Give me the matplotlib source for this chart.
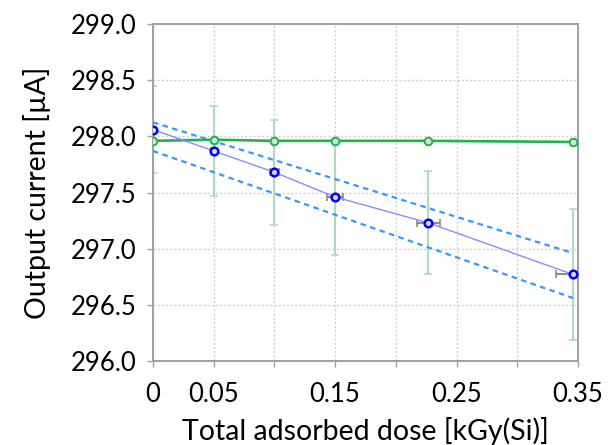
import matplotlib
matplotlib.use("Agg")
import matplotlib.pyplot as plt

# data
dose = [0.0, 0.05, 0.10, 0.15, 0.2268, 0.346]
dose_err = [0.0, 0.002, 0.004, 0.0065, 0.0095, 0.014]
current_irr = [298.06, 297.87, 297.68, 297.46, 297.23, 296.77]
current_irr_err = [0.385, 0.40, 0.47, 0.52, 0.46, 0.585]
current_ref = [297.96, 297.97, 297.96, 297.96, 297.96, 297.95]

band_x = [0.0, 0.346]
band_upper = [298.125, 296.96]
band_lower = [297.87, 296.56]

xticks = [0.0, 0.05, 0.10, 0.15, 0.20, 0.25, 0.30, 0.35]
xtick_labels = ["0", "0.05", "", "0.15", "", "0.25", "", "0.35"]
yticks = [296.0, 296.5, 297.0, 297.5, 298.0, 298.5, 299.0]

plt.rcParams["font.family"] = ["Lato", "DejaVu Sans"]

fig = plt.figure(figsize=(6.09, 4.45), dpi=100)
ax = fig.add_axes([0.2512, 0.1888, 0.6978, 0.7572])

# error bars of the irradiated device
ax.errorbar(dose, current_irr, yerr=current_irr_err, fmt="none",
            ecolor="#a8d8bb", elinewidth=1.3, capsize=3, capthick=1.1, zorder=2)
ax.errorbar(dose, current_irr, xerr=dose_err, fmt="none",
            ecolor="#8c8c8c", elinewidth=1.5, capsize=3, capthick=1.2, zorder=2)

ax.plot(band_x, band_upper, color="#3399ff", lw=1.6, ls=(0, (2.5, 2)), zorder=3)
ax.plot(band_x, band_lower, color="#3399ff", lw=1.6, ls=(0, (2.5, 2)), zorder=3)

ax.plot(dose, current_ref, color="#22b14c", lw=1.9, marker="o", ms=5.5,
        mec="#22b14c", mfc="#c8ecd4", mew=1.4, zorder=4)
ax.plot(dose, current_irr, color="#8c8cff", lw=1.0, marker="o", ms=5.5,
        mec="#0000ff", mfc="#d8d8ff", mew=1.8, zorder=5)

ax.set_xlim(0, 0.35)
ax.set_ylim(296.0, 299.0)
ax.set_xticks(xticks)
ax.set_xticklabels(xtick_labels)
ax.set_yticks(yticks)
ax.set_yticklabels([f"{v:.1f}" for v in yticks])

ax.grid(True, color="#d0d0d0", ls=(0, (1.5, 1.5)), lw=1.0)
ax.set_axisbelow(True)
for s in ax.spines.values():
    s.set_color("#a0a0a0")
    s.set_linewidth(1.4)
ax.tick_params(axis="both", direction="out", length=4, width=1.0,
               color="#a0a0a0", labelsize=18.5, labelcolor="#000000")
ax.tick_params(axis="y", pad=8)
ax.tick_params(axis="x", pad=11)

ax.set_xlabel("Total adsorbed dose [kGy(Si)]", fontsize=20.5, labelpad=7)
ax.set_ylabel("Output current [\u00b5A]", fontsize=20.5, labelpad=14)

fig.savefig("out.png", dpi=100)
